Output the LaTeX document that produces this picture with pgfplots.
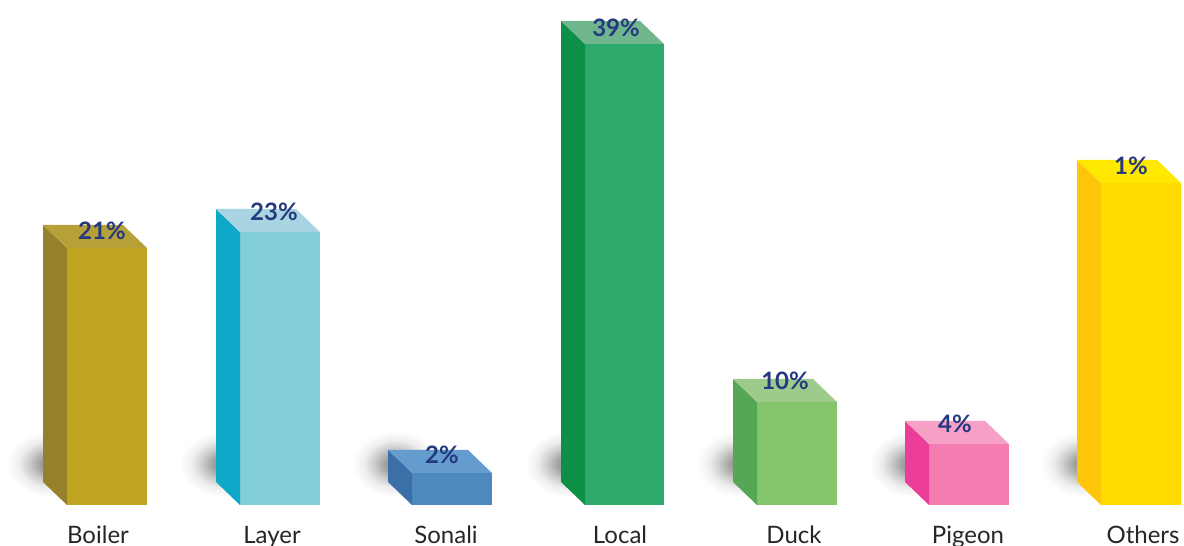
\documentclass[border=0pt]{standalone}
\usepackage{pgfplots}
\pgfplotsset{compat=1.18}
\usepackage{fontspec}
\setmainfont{Lato}
\definecolor{labelblue}{HTML}{24397F}
\definecolor{boilerF}{HTML}{BFA522}\definecolor{boilerS}{HTML}{96802A}\definecolor{boilerT}{HTML}{B8A038}
\definecolor{layerF}{HTML}{82CFD9}\definecolor{layerS}{HTML}{0FA8C8}\definecolor{layerT}{HTML}{A9D5E3}
\definecolor{sonaliF}{HTML}{4E89BE}\definecolor{sonaliS}{HTML}{3B6FA8}\definecolor{sonaliT}{HTML}{639CCD}
\definecolor{localF}{HTML}{2DAA6A}\definecolor{localS}{HTML}{0C9048}\definecolor{localT}{HTML}{70B68D}
\definecolor{duckF}{HTML}{84C56E}\definecolor{duckS}{HTML}{55A655}\definecolor{duckT}{HTML}{9DCB8C}
\definecolor{pigeonF}{HTML}{F47CB0}\definecolor{pigeonS}{HTML}{EC3D98}\definecolor{pigeonT}{HTML}{F6A0C6}
\definecolor{othersF}{HTML}{FFDB00}\definecolor{othersS}{HTML}{FFC50B}\definecolor{othersT}{HTML}{FFE800}
\pgfdeclareradialshading{groundshadow}{\pgfpoint{0bp}{0bp}}{%
  color(0bp)=(black!45); color(6bp)=(black!38); color(12bp)=(black!21);
  color(18bp)=(black!7); color(25bp)=(white); color(50bp)=(white)}
% One prism: left edge, right edge, drawn height, then the front, side and top colours.
% The top and side faces are offset by the same depth on every bar, and a soft
% shadow lies on the ground behind the side face.
\newcommand{\prism}[6]{%
  \pgfmathsetmacro{\backx}{#1-24}%
  \pgfmathsetmacro{\backy}{#3+23}%
  \pgfmathsetmacro{\backr}{#2-24}%
  \pgfmathsetmacro{\shadowx}{#1-16}%
  \edef\groundshadow{\noexpand\shade[shading=groundshadow] (axis cs:\shadowx,41) ellipse [x radius=44, y radius=33];}%
  \groundshadow
  \addplot[fill=#4,draw=none] coordinates {(#1,0) (#2,0) (#2,#3) (#1,#3)} -- cycle;
  \addplot[fill=#5,draw=none] coordinates {(#1,0) (#1,#3) (\backx,\backy) (\backx,23)} -- cycle;
  \addplot[fill=#6,draw=none] coordinates {(#1,#3) (#2,#3) (\backr,\backy) (\backx,\backy)} -- cycle;
}
\begin{document}
\begin{tikzpicture}
\begin{axis}[
  scale only axis, width=1184pt, height=546pt,
  xmin=0, xmax=1184, ymin=-41, ymax=505,
  axis line style={draw=none},
  ytick=\empty,
  xtick={98,272,446,620,794,968,1143},
  xticklabels={Boiler,Layer,Sonali,Local,Duck,Pigeon,Others},
  major tick style={draw=none},
  tick label style={font=\fontsize{24}{26}\selectfont, text=black!85},
  xticklabel style={inner sep=0pt, yshift=23pt, text height=20pt, text depth=0pt},
  clip=false,
]
\prism{67}{147}{257}{boilerF}{boilerS}{boilerT}
\prism{240}{320}{273}{layerF}{layerS}{layerT}
\prism{412}{492}{32}{sonaliF}{sonaliS}{sonaliT}
\prism{585}{664}{461}{localF}{localS}{localT}
\prism{757}{837}{103}{duckF}{duckS}{duckT}
\prism{929}{1009}{61}{pigeonF}{pigeonS}{pigeonT}
\prism{1101}{1181}{322}{othersF}{othersS}{othersT}
% Share labels sitting on the top face of each bar
\addplot[draw=none, mark=none, point meta=explicit symbolic,
  nodes near coords,
  every node near coord/.append style={anchor=center, font=\bfseries\fontsize{24}{26}\selectfont, text=labelblue}]
  coordinates {(102,274) [21\%] (274,293) [23\%] (442,50) [2\%] (616,477) [39\%]
               (785,124) [10\%] (955,81) [4\%] (1131,339) [1\%]};
\end{axis}
\end{tikzpicture}
\end{document}
